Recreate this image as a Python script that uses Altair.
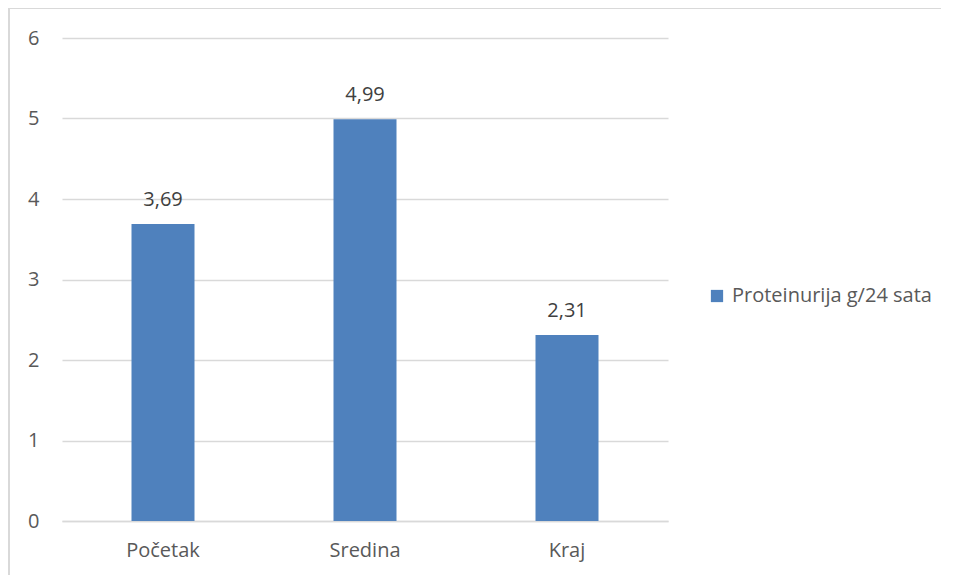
import altair as alt
import pandas as pd

categories = ["Početak", "Sredina", "Kraj"]
values = [3.69, 4.99, 2.31]
series_name = "Proteinurija g/24 sata"
y_ticks = [0, 1, 2, 3, 4, 5, 6]

df = pd.DataFrame({"cat": categories, "val": values, "series": [series_name] * 3})

FONT = "Open Sans"
FS = 20
W, H = 606, 483

x = alt.X("cat:N", sort=categories, title=None,
          scale=alt.Scale(paddingInner=0, paddingOuter=0),
          axis=alt.Axis(labelAngle=0, ticks=False, domainColor="#d9d9d9", domainWidth=1.3,
                        labelColor="#595959", labelFontSize=FS, labelFont=FONT, labelPadding=19))
y = alt.Y("val:Q", title=None,
          scale=alt.Scale(domain=[0, 6], nice=False),
          axis=alt.Axis(values=y_ticks, format="d", ticks=False, domain=False,
                        gridColor="#d9d9d9", gridWidth=1.3,
                        labelColor="#595959", labelFontSize=FS, labelFont=FONT, labelPadding=23))

bars = alt.Chart(df).mark_bar(size=63, color="#4f81bd").encode(
    x=x, y=y,
    color=alt.Color("series:N", scale=alt.Scale(range=["#4f81bd"]),
                    legend=alt.Legend(title=None, orient="none", legendX=645, legendY=248,
                                      symbolType="square", symbolSize=150, symbolStrokeWidth=0,
                                      labelFontSize=FS, labelFont=FONT, labelColor="#595959",
                                      labelOffset=5, labelLimit=0))
)

labels = alt.Chart(df).transform_calculate(
    lbl="replace(format(datum.val, '.2f'), '.', ',')"
).mark_text(baseline="alphabetic", dy=-18, fontSize=FS, font=FONT, color="#404040").encode(
    x=alt.X("cat:N", sort=categories), y="val:Q", text="lbl:N"
)

border_left = alt.Chart(df).mark_rule(color="#d9d9d9", strokeWidth=2, clip=False).encode(
    x=alt.value(-53), y=alt.value(-30), y2=alt.value(545)
)
border_top = alt.Chart(df).mark_rule(color="#d9d9d9", strokeWidth=2, clip=False).encode(
    x=alt.value(-53), x2=alt.value(879), y=alt.value(-30)
)

chart = alt.layer(bars, labels, border_left, border_top).properties(
    width=W, height=H,
    padding={"left": 54, "top": 30, "right": 280, "bottom": 54},
    autosize=alt.AutoSizeParams(type="none"),
).configure_view(stroke=None).configure_axis(grid=True).configure_axisX(grid=False)

chart.save("out.html", embed_options={"renderer": "svg", "actions": False})
